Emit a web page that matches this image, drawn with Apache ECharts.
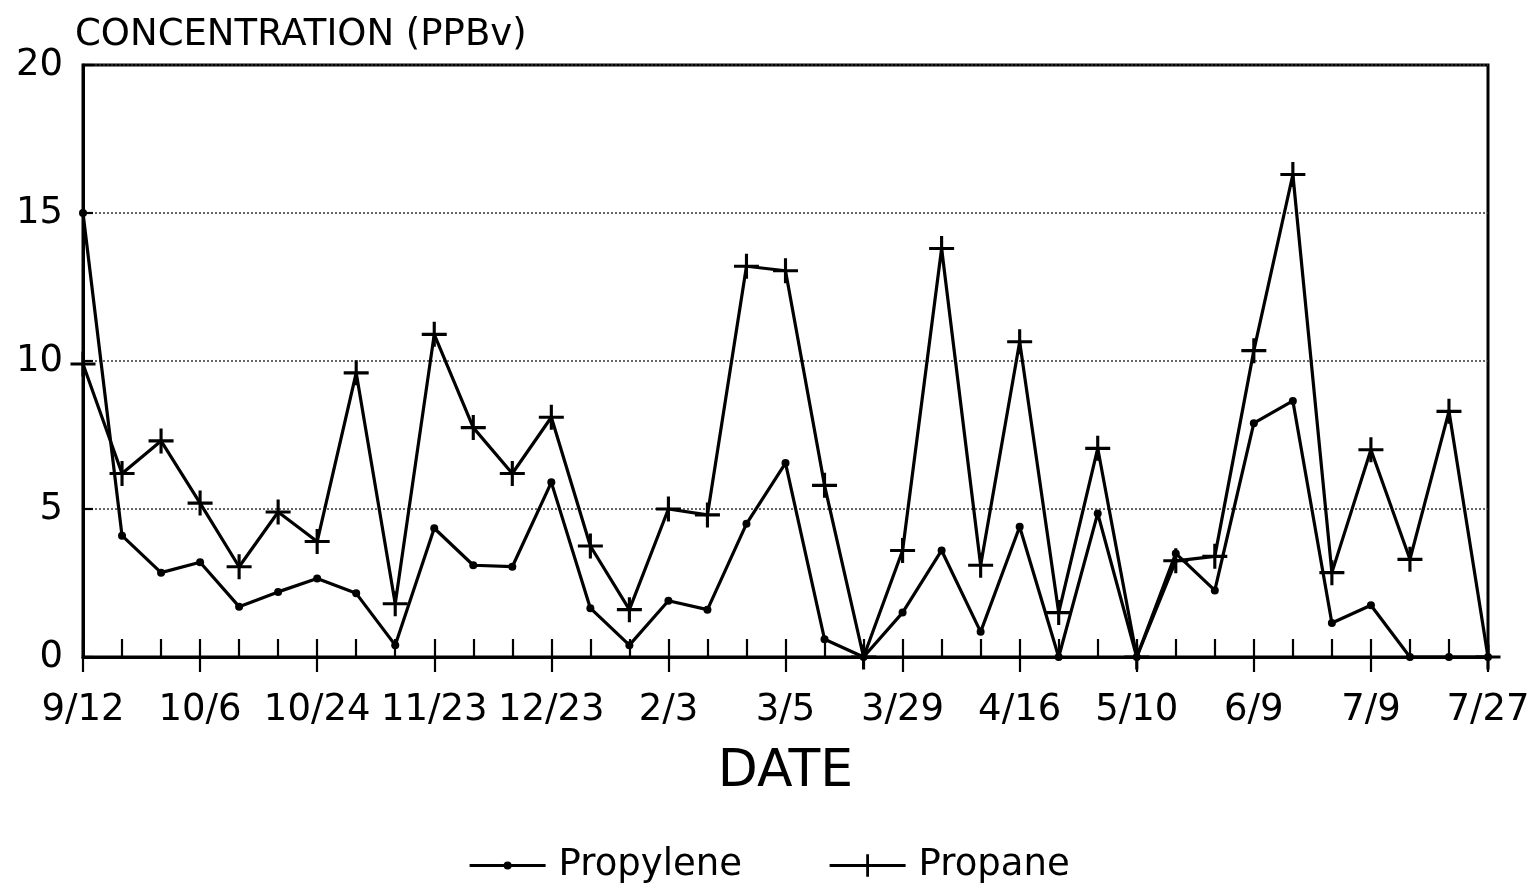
<!DOCTYPE html>
<html>
<head>
<meta charset="utf-8">
<title>Propylene and Propane Concentration</title>
<script src="https://cdn.jsdelivr.net/npm/echarts@6/dist/echarts.min.js"></script>
<style>
  html, body { margin: 0; padding: 0; background: #fff; }
  #chart { width: 1537px; height: 884px; }
</style>
</head>
<body>
<div id="chart"></div>
<script>
// Date labels printed under the major ticks (every third sample)
const dateLabels = ['9/12', '10/6', '10/24', '11/23', '12/23', '2/3', '3/5',
                    '3/29', '4/16', '5/10', '6/9', '7/9', '7/27'];
const samplesPerLabel = 3;

// Concentrations in PPBv, one value per sampling date
const propylene = [15.0, 4.1, 2.85, 3.2, 1.7, 2.2, 2.65, 2.15, 0.4, 4.35,
                   3.1, 3.05, 5.9, 1.65, 0.4, 1.9, 1.6, 4.5, 6.55, 0.6,
                   0, 1.5, 3.6, 0.85, 4.4, 0, 4.85, 0, 3.5, 2.25,
                   7.9, 8.65, 1.15, 1.75, 0, 0, 0];
const propane = [9.9, 6.2, 7.3, 5.2, 3.05, 4.9, 3.9, 9.6, 1.8, 10.9,
                 7.75, 6.2, 8.1, 3.75, 1.6, 5.0, 4.8, 13.2, 13.05, 5.8,
                 0, 3.6, 13.8, 3.1, 10.65, 1.5, 7.05, 0, 3.25, 3.4,
                 10.35, 16.3, 2.85, 7.0, 3.3, 8.3, 0];

const yTicks = { min: 0, max: 20, step: 5 };

// Category slots: labelled dates with unlabelled samples in between
const categories = [];
dateLabels.forEach((lab, i) => {
  categories.push(lab);
  if (i < dateLabels.length - 1) {
    for (let k = 1; k < samplesPerLabel; k++) categories.push('');
  }
});

const FONT = 'DejaVu Sans';
const INK = '#000';
const LINE_W = 3.2;
const crossSymbol = 'path://M0,10.5L24,10.5L24,13.5L0,13.5Z M10.5,0L13.5,0L13.5,24L10.5,24Z';

const chart = echarts.init(document.getElementById('chart'), null, { renderer: 'canvas' });

const legendText = { fontFamily: FONT, fontSize: 37, color: INK, padding: [0, 0, 0, 8] };

chart.setOption({
  backgroundColor: '#fff',
  animation: false,
  textStyle: { fontFamily: FONT, color: INK },
  grid: {
    left: 83, right: 49, top: 65, bottom: 227,
    show: true, borderColor: INK, borderWidth: 3, backgroundColor: 'transparent'
  },
  legend: [
    {
      data: ['Propylene'], left: 463, top: 842,
      itemWidth: 76, itemHeight: 10, itemGap: 0,
      lineStyle: { width: LINE_W, color: INK },
      textStyle: legendText
    },
    {
      data: ['Propane'], left: 823, top: 842,
      itemWidth: 76, itemHeight: 28, itemGap: 0,
      lineStyle: { width: LINE_W, color: INK },
      textStyle: legendText
    }
  ],
  xAxis: [
    {
      // minor ticks at every sample, pointing into the plot
      type: 'category', data: categories, boundaryGap: false, position: 'bottom',
      name: 'DATE', nameLocation: 'middle', nameGap: 89,
      nameTextStyle: { fontFamily: FONT, fontSize: 52, color: INK },
      axisLine: { show: true, lineStyle: { color: INK, width: 3.2 } },
      axisTick: { show: true, inside: true, length: 18, interval: 0, lineStyle: { color: INK, width: 2.2 } },
      axisLabel: { show: false },
      splitLine: { show: false }
    },
    {
      // major ticks under each labelled date
      type: 'category', data: categories, boundaryGap: false, position: 'bottom',
      axisLine: { show: false },
      axisTick: { show: true, inside: false, length: 15, interval: samplesPerLabel - 1, lineStyle: { color: INK, width: 2.2 } },
      axisLabel: { show: true, interval: samplesPerLabel - 1, margin: 35, fontFamily: FONT, fontSize: 37, color: INK },
      splitLine: { show: false }
    }
  ],
  yAxis: {
    type: 'value', min: yTicks.min, max: yTicks.max, interval: yTicks.step,
    name: 'CONCENTRATION (PPBv)', nameLocation: 'end', nameGap: 11,
    nameTextStyle: { fontFamily: FONT, fontSize: 37, color: INK, align: 'left', padding: [0, 0, 0, -8] },
    axisLine: { show: true, lineStyle: { color: INK, width: 3 } },
    axisTick: { show: true, inside: true, length: 10, lineStyle: { color: INK, width: 2.2 } },
    axisLabel: { margin: 20, fontFamily: FONT, fontSize: 37, color: INK },
    splitLine: { show: true, lineStyle: { color: '#333', width: 1.5, type: [2, 2] } }
  },
  series: [
    {
      name: 'Propylene', type: 'line', data: propylene,
      xAxisIndex: 0, yAxisIndex: 0,
      symbol: 'circle', symbolSize: 8, showSymbol: true,
      lineStyle: { color: INK, width: LINE_W },
      itemStyle: { color: INK, borderWidth: 0 },
      clip: false, z: 3
    },
    {
      name: 'Propane', type: 'line', data: propane,
      xAxisIndex: 0, yAxisIndex: 0,
      symbol: crossSymbol, symbolSize: 25, showSymbol: true,
      lineStyle: { color: INK, width: LINE_W },
      itemStyle: { color: INK, borderWidth: 0 },
      clip: false, z: 3
    }
  ]
});
</script>
</body>
</html>
